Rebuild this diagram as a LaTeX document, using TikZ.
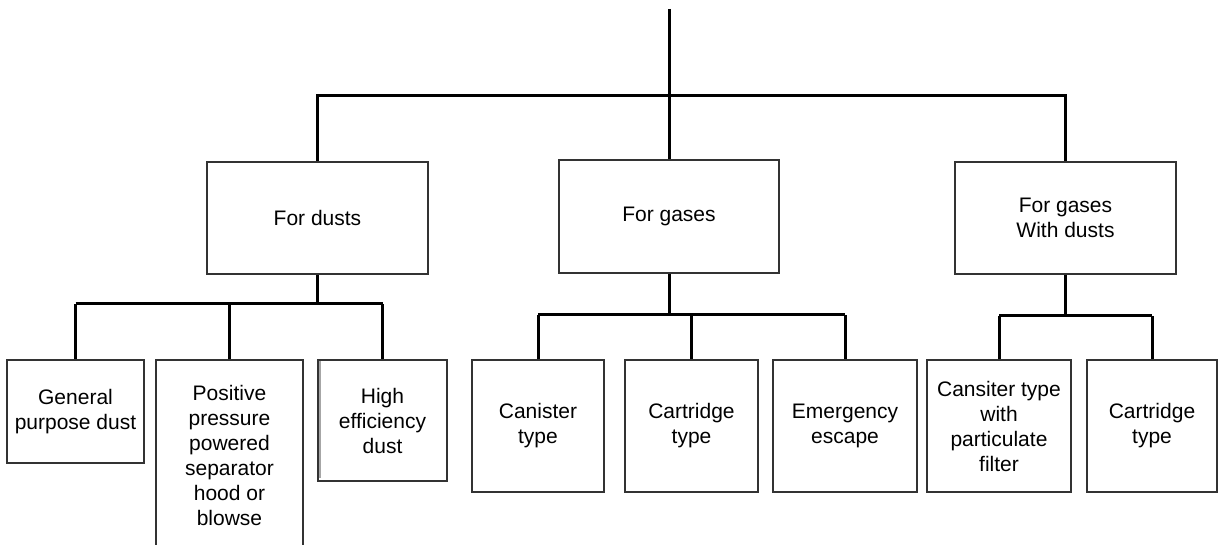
\documentclass[tikz,border=0pt]{standalone}
\usepackage{fontspec}
\setmainfont{Liberation Sans}

\begin{document}
\begin{tikzpicture}[x=1pt,y=-1pt,
    box/.style={draw=black!80,line width=1.6pt,rectangle,inner sep=0pt,align=center,
                font=\fontsize{21}{25}\selectfont},
    conn/.style={line width=3pt,black}]
    \useasboundingbox (0,0) rectangle (1218,545);

    % first row
    \node [box,minimum width=221,minimum height=112] (dusts) at (317.5,218) {For dusts};
    \node [box,minimum width=220,minimum height=113] (gases) at (669,216.5) {For gases};
    \node [box,minimum width=221,minimum height=112] (mix) at (1065.5,218) {For gases\\With dusts};

    % second row
    \node [box,minimum width=137,minimum height=103] (general) at (75.5,411.5) {General\\purpose dust};
    \node [box,minimum width=147,minimum height=190] (positive) at (229.5,455)
        {Positive\\pressure\\powered\\separator\\hood or\\blowse};
    \node [box,minimum width=129,minimum height=121] (high) at (382.5,420.5) {High\\efficiency\\dust};
    \draw [line width=2pt,black!35] (high.north west) ++(3,2) -- ++(0,117);
    \node [box,minimum width=132,minimum height=132] (canister) at (538,426) {Canister\\type};
    \node [box,minimum width=133,minimum height=132] (cartridge) at (691.5,426) {Cartridge\\type};
    \node [box,minimum width=144,minimum height=132] (escape) at (845,426) {Emergency\\escape};
    \node [box,minimum width=144,minimum height=132] (cansiter) at (999,426)
        {Cansiter type\\with\\particulate\\filter};
    \node [box,minimum width=130,minimum height=132] (cartridgeb) at (1152,426) {Cartridge\\type};

    % connectors
    \coordinate (top) at (669,9);
    \coordinate (bar) at (669,96);
    \draw [conn] (top) -- (gases.north);
    \draw [conn] (dusts.north) |- (bar) -| (mix.north);

    \coordinate (dbar) at (317.5,304);
    \coordinate (gbar) at (669,315);
    \coordinate (mbar) at (1065.5,316);
    \draw [conn] (dusts.south) -- (dbar);
    \draw [conn] (gases.south) -- (gbar);
    \draw [conn] (mix.south) -- (mbar);
    \foreach \n in {general,positive,high} {
        \draw [conn] (\n.north) -- (\n.north |- dbar);
    }
    \foreach \n in {canister,cartridge,escape} {
        \draw [conn] (\n.north) -- (\n.north |- gbar);
    }
    \foreach \n in {cansiter,cartridgeb} {
        \draw [conn] (\n.north) -- (\n.north |- mbar);
    }
    \draw [conn] (general.north |- dbar) -- (high.north |- dbar);
    \draw [conn] (canister.north |- gbar) -- (escape.north |- gbar);
    \draw [conn] (cansiter.north |- mbar) -- (cartridgeb.north |- mbar);
\end{tikzpicture}
\end{document}
